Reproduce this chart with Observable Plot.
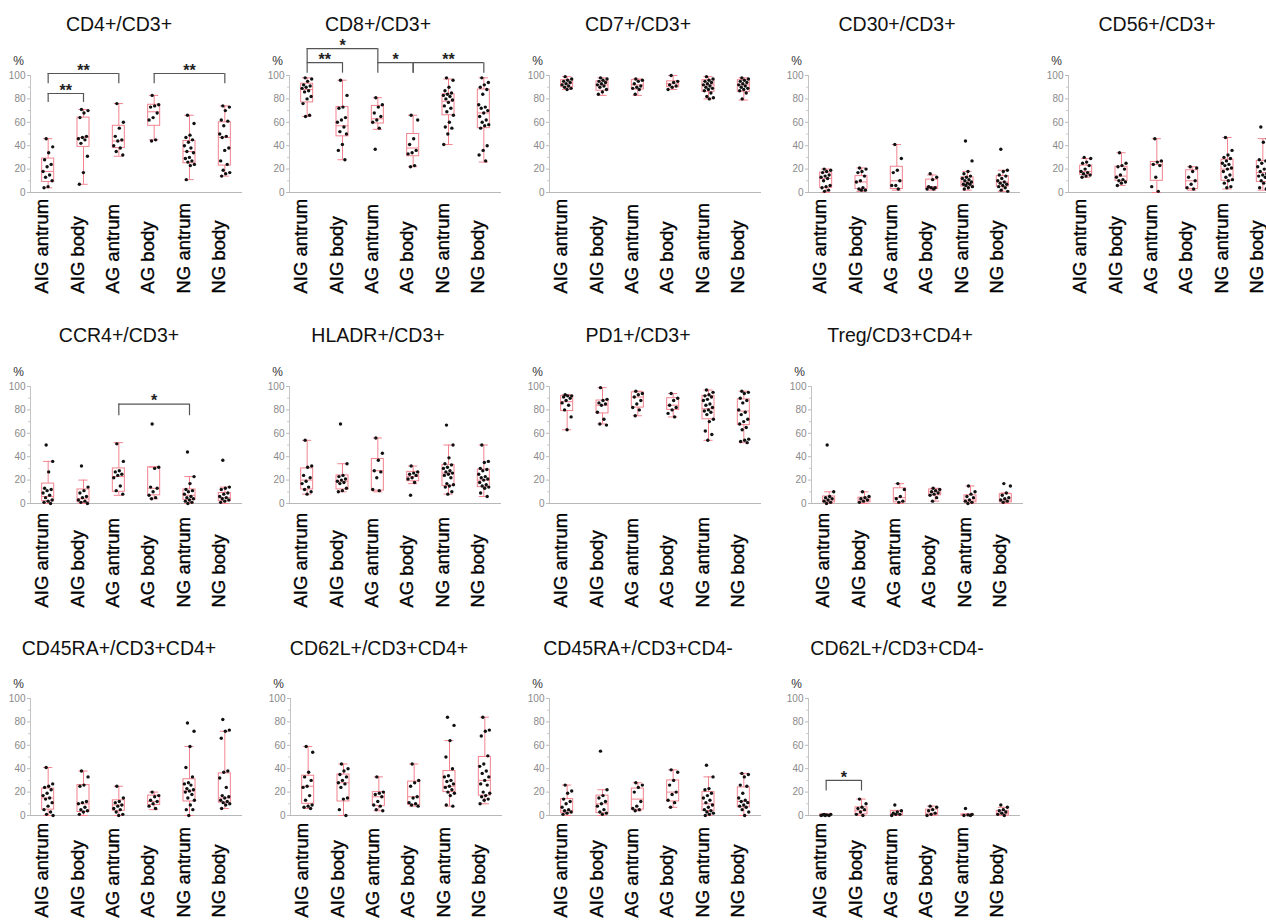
<!DOCTYPE html>
<html><head><meta charset="utf-8">
<script src="https://cdn.jsdelivr.net/npm/d3@7"></script>
<script src="https://cdn.jsdelivr.net/npm/@observablehq/plot@0.6"></script>
<style>
html,body{margin:0;padding:0;background:#fff;overflow:hidden;}
#root{position:relative;width:1266px;height:920px;overflow:hidden;font-family:"Liberation Sans",Arial,sans-serif;}
.title{position:absolute;width:238px;text-align:center;font-size:19.5px;line-height:19.5px;color:#111;white-space:nowrap;}
.panel{position:absolute;width:260px;}
.panel svg{max-width:none !important;}
</style></head><body><div id="root"></div>
<script>
const groups = ["AIG antrum","AIG body","AG antrum","AG body","NG antrum","NG body"];
const yTicks = [0,20,40,60,80,100];
const yMinor = [10,30,50,70,90];

// box stats per group: [whisker low, q1, median, q3, whisker high]
const cd4Box = [[4,9,18,29,46],[7,39,47,64,71],[31,38,44,57,76],[45,57,69,75,83],[11,25,35,44,66],[14,23,47,60,74]];
const cd4Pts = [
 [46,39,34,28,24,22,18,15,13,10,5,4],
 [71,70,68,64,48,47,46,45,42,31,17,7],
 [76,60,55,48,45,44,40,38,35,32],
 [83,75,74,73,68,64,62,45,44],
 [66,59,49,47,45,43,40,38,35,34,30,29,27,26,24,23,11],
 [74,73,70,62,61,57,50,48,47,38,36,27,24,19,17,16,14]];
const cd4Sig = [
 {a:"AIG antrum",b:"AIG body",y1:77,y2:84.6,label:"**"},
 {a:"AIG antrum",b:"AG antrum",y1:93,y2:101.7,label:"**"},
 {a:"AG body",b:"NG body",y1:93,y2:101.7,label:"**"}];

const cd8Box = [[65,77,88,93,98],[28,48,57,73,96],[54,59,63,74,81],[22,31,38,50,66],[41,66,78,84,97],[26,55,68,88,98]];
const cd8Pts = [
 [98,97,95,92,91,90,89,87,86,82,80,76,66,65],
 [96,83,73,72,64,62,60,56,52,50,41,36,28],
 [81,75,73,68,65,62,60,55,37],
 [66,62,46,41,36,34,33,23,22],
 [98,96,90,87,85,84,83,82,80,79,77,74,72,69,66,60,56,55,50,41],
 [98,94,92,90,88,84,75,73,72,70,68,65,62,60,58,57,55,40,36,32,27]];
const cd8Sig = [
 {a:"AIG antrum",b:"AG antrum",y1:111,y2:123,label:"*"},
 {a:"AIG antrum",b:"AIG body",y1:102,y2:111,label:"**"},
 {a:"AG antrum",b:"AG body",y1:102,y2:111,label:"*"},
 {a:"AG body",b:"NG body",y1:102,y2:111,label:"**"}];

const cd7Box = [[88,90,93,96,99],[83,87,92,95,98],[83,88,92,96,97],[88,90,93,95,100],[80,86,92,96,99],[79,86,92,96,98]];
const cd7Pts = [
 [99,97,96,95,94,93,92,91,90,89,88],
 [98,97,96,95,94,93,92,91,90,88,86,84],
 [97,96,95,93,91,90,89,88,84],
 [100,95,94,92,91,90,88],
 [99,97,96,95,94,93,92,91,90,89,88,87,85,82,81,80],
 [98,97,96,95,94,93,92,91,90,89,88,87,85,80]];

const cd30Box = [[0,4,12,17,20],[1,3,9,14,21],[2,3,10,22,41],[2,3,5,11,15],[2,5,9,13,18],[1,5,9,14,19]];
const cd30Pts = [
 [20,19,18,17,15,14,13,12,10,6,5,4,2,1],
 [21,20,18,17,14,10,9,4,3,2,2],
 [41,29,19,17,10,6,6,3],
 [16,13,11,5,4,4,3,3],
 [44,27,18,16,14,13,12,11,10,9,8,7,7,6,5,4,3],
 [37,19,18,15,14,12,10,9,8,7,6,5,4,2,1]];

const cd56Box = [[13,15,18,23,29],[6,10,14,22,34],[0,10,24,26,46],[2,3,10,19,22],[3,10,20,28,47],[2,9,17,27,46]];
const cd56Pts = [
 [30,29,26,25,23,20,18,17,16,15,14,13],
 [34,25,23,22,20,15,13,11,10,9,8,6],
 [46,27,26,24,23,13,5,1],
 [22,21,18,13,10,7,4,3],
 [47,36,32,30,29,27,25,24,23,21,20,18,15,13,11,10,8,5,4],
 [56,46,43,28,27,25,22,20,18,16,15,14,13,10,9,8,4,3]];

const ccr4Box = [[0,2,6,17,36],[0,1,4,12,20],[7,10,23,30,52],[4,7,13,31,31],[0,3,7,12,23],[0,2,5,9,14]];
const ccr4Pts = [
 [50,36,27,13,12,11,9,7,5,3,2,1,0],
 [32,14,11,9,6,5,3,2,1,0],
 [51,36,28,27,25,24,22,15,11,8],
 [68,31,30,14,13,10,7,5,4],
 [44,23,17,12,11,10,8,6,5,4,3,2,1,0],
 [37,14,13,12,9,8,6,5,4,3,2,1]];
const ccr4Sig = [{a:"AG antrum",b:"NG antrum",y1:75,y2:85,label:"*"}];

const hladrBox = [[8,12,20,30,54],[10,12,19,24,34],[10,11,28,38,56],[17,19,23,27,32],[8,15,26,33,50],[6,14,20,29,50]];
const hladrPts = [
 [54,32,31,24,22,19,17,14,12,10,8],
 [68,34,24,23,21,20,19,18,17,13,11,10],
 [56,43,37,28,27,22,12,11],
 [32,27,26,25,24,22,21,18,7],
 [67,50,39,34,33,31,30,28,27,26,25,24,22,17,16,15,14,10,8],
 [50,36,35,30,29,28,25,23,22,21,20,18,16,15,14,13,9,6]];

const pd1Box = [[63,79,87,92,93],[68,77,84,88,99],[75,82,91,95,96],[74,80,84,90,94],[54,72,81,92,97],[52,67,79,89,96]];
const pd1Pts = [
 [93,92,92,91,90,88,86,84,80,74,63],
 [99,89,88,86,85,84,78,72,68,67],
 [96,94,93,91,88,85,82,80,75],
 [94,90,88,84,82,80,77,74],
 [97,95,93,92,91,89,88,85,84,82,80,79,78,76,72,70,62,59,54],
 [96,95,94,90,88,86,80,78,76,72,70,68,65,63,55,54,53,52]];

const tregBox = [[0,1,3,6,10],[0,1,3,5,10],[0,1,5,13,17],[2,7,10,12,13],[0,1,3,7,15],[0,1,3,8,9]];
const tregPts = [
 [50,10,6,5,4,3,2,1,0],
 [10,6,5,4,3,2,1],
 [17,12,6,4,2,1],
 [13,12,11,10,9,8,7,5,2],
 [15,10,8,6,5,3,2,1,0],
 [17,15,9,7,5,4,3,2,1]];

const ra4pBox = [[0,5,15,23,41],[0,3,10,26,38],[0,4,9,13,25],[5,9,12,17,20],[0,12,21,31,59],[6,11,15,36,72]];
const ra4pPts = [
 [41,27,25,24,22,19,17,15,14,11,8,5,3,1,0],
 [38,33,26,25,12,11,10,7,5,4,3,1],
 [25,15,12,11,9,8,6,5,3,1,0],
 [20,17,16,13,12,10,8,6],
 [79,72,59,41,33,28,27,26,23,22,21,20,18,15,13,9,5,5,0],
 [82,73,72,66,38,37,32,24,17,16,15,13,12,11,10,9,6]];

const l4pBox = [[6,10,25,34,59],[0,12,28,35,44],[4,8,16,20,33],[8,9,16,29,44],[8,20,25,38,64],[10,17,30,50,84]];
const l4pPts = [
 [59,54,37,33,30,25,24,17,13,9,8,7,6],
 [44,40,38,35,33,30,28,27,24,15,14,5,0],
 [33,20,19,18,16,12,9,8,5,4],
 [44,30,28,25,16,15,11,10,9,8],
 [84,77,64,50,40,34,33,30,29,27,25,24,22,20,19,17,9,8],
 [84,73,72,68,51,44,42,38,36,33,30,27,26,20,19,17,16,14,13,10]];

const ra4mBox = [[0,2,4,14,26],[0,2,10,17,22],[4,5,14,23,28],[7,12,20,30,39],[0,4,10,20,33],[0,7,12,24,36]];
const ra4mPts = [
 [26,21,19,14,12,10,7,5,4,3,2,1],
 [55,22,17,15,12,10,8,5,3,2,1],
 [28,26,24,20,12,8,6,5,4],
 [39,37,30,26,20,18,13,11,7],
 [43,33,23,22,19,17,15,13,11,9,7,5,4,3,2,1,0],
 [36,35,33,26,25,19,15,13,12,11,9,8,7,5,3,0]];

const l4mBox = [[0,0,0.5,1,1],[0,1,4,7,14],[0,0,1,4,4],[0,0,2,5,8],[0,0,0.3,1,1],[0,0,2,4,7]];
const l4mPts = [
 [1,1,0.5,0.5,0,0,0],
 [14,10,7,6,5,3,1,0],
 [9,4,3,2,1,1,0],
 [8,7,5,4,2,1,0],
 [6,1,0.5,0,0],
 [9,7,5,4,3,2,1,0]];
const l4mSig = [{a:"AIG antrum",b:"AIG body",y1:21,y2:30,label:"*"}];

const panels = [
 {title:"CD4+/CD3+", box:cd4Box, pts:cd4Pts, sig:cd4Sig, row:0, col:0},
 {title:"CD8+/CD3+", box:cd8Box, pts:cd8Pts, sig:cd8Sig, row:0, col:1},
 {title:"CD7+/CD3+", box:cd7Box, pts:cd7Pts, sig:[], row:0, col:2},
 {title:"CD30+/CD3+", box:cd30Box, pts:cd30Pts, sig:[], row:0, col:3},
 {title:"CD56+/CD3+", box:cd56Box, pts:cd56Pts, sig:[], row:0, col:4},
 {title:"CCR4+/CD3+", box:ccr4Box, pts:ccr4Pts, sig:ccr4Sig, row:1, col:0},
 {title:"HLADR+/CD3+", box:hladrBox, pts:hladrPts, sig:[], row:1, col:1},
 {title:"PD1+/CD3+", box:pd1Box, pts:pd1Pts, sig:[], row:1, col:2},
 {title:"Treg/CD3+CD4+", box:tregBox, pts:tregPts, sig:[], row:1, col:3},
 {title:"CD45RA+/CD3+CD4+", box:ra4pBox, pts:ra4pPts, sig:[], row:2, col:0},
 {title:"CD62L+/CD3+CD4+", box:l4pBox, pts:l4pPts, sig:[], row:2, col:1},
 {title:"CD45RA+/CD3+CD4-", box:ra4mBox, pts:ra4mPts, sig:[], row:2, col:2},
 {title:"CD62L+/CD3+CD4-", box:l4mBox, pts:l4mPts, sig:l4mSig, row:2, col:3}
];

const frameTops = [75, 385.5, 698];
const titleTops = [14.5, 326, 639];
const labelDy = [101, 104, 102];
const colLefts = [[0,259,519,778,1038],[0,259,519,781],[0,260,519,778]];

const PINK = "#f2838f";
const root = document.getElementById("root");

function jitter(k){ const f = ((k*0.618034 + 0.31) % 1); return (f - 0.5) * 0.3; }

for (const p of panels) {
  const left = colLefts[p.row][p.col];
  const boxes = p.box.map((b,i)=>({i, lo:b[0], q1:b[1], med:b[2], q3:b[3], hi:b[4]}));
  const dots = p.pts.flatMap((arr,i)=>arr.map((v,k)=>({i, j:jitter(k), v})));
  const sig = p.sig.map(s=>({...s, ia:groups.indexOf(s.a), ib:groups.indexOf(s.b)}));
  const svg = Plot.plot({
    width:260, height:270, marginTop:45, marginBottom:108, marginLeft:30, marginRight:18,
    style:{fontFamily:"'Liberation Sans', Arial, sans-serif", background:"transparent", overflow:"visible", maxWidth:"none"},
    x:{domain:[-0.5,5.5], axis:null},
    y:{domain:[0,100]},
    marks:[
      Plot.ruleX([-0.5], {stroke:"#c4c4c4"}),
      Plot.ruleY([0], {stroke:"#b8b8b8", strokeWidth:1.2}),
      Plot.axisY(yTicks, {tickSize:3, tickPadding:2, fontSize:10, fill:"#8a8a8a", stroke:"#bbb", label:null}),
      Plot.axisY(yMinor, {tickSize:2, tickFormat:()=>"", stroke:"#ccc", label:null}),
      Plot.text(["%"], {text:d=>d, frameAnchor:"top-left", textAnchor:"middle", dx:-12, dy:-19, fontSize:12, fill:"#333"}),
      Plot.ruleX(boxes, {x:"i", y1:"lo", y2:"q1", stroke:PINK}),
      Plot.ruleX(boxes, {x:"i", y1:"q3", y2:"hi", stroke:PINK}),
      Plot.ruleY(boxes, {y:"lo", x1:d=>d.i-0.13, x2:d=>d.i+0.13, stroke:PINK}),
      Plot.ruleY(boxes, {y:"hi", x1:d=>d.i-0.13, x2:d=>d.i+0.13, stroke:PINK}),
      Plot.rect(boxes, {x1:d=>d.i-0.17, x2:d=>d.i+0.17, y1:"q1", y2:"q3", fill:"none", stroke:PINK}),
      Plot.ruleY(boxes, {y:"med", x1:d=>d.i-0.17, x2:d=>d.i+0.17, stroke:PINK}),
      Plot.dot(dots, {x:d=>d.i+d.j, y:"v", r:1.7, fill:"#111", stroke:"none"}),
      Plot.ruleY(sig, {y:"y2", x1:"ia", x2:"ib", stroke:"#555", strokeWidth:1.2}),
      Plot.ruleX(sig, {x:"ia", y1:"y1", y2:"y2", stroke:"#555", strokeWidth:1.2}),
      Plot.ruleX(sig, {x:"ib", y1:"y1", y2:"y2", stroke:"#555", strokeWidth:1.2}),
      Plot.text(sig, {x:d=>(d.ia+d.ib)/2, y:"y2", text:"label", dy:-3, fontSize:16, fontWeight:"bold", fill:"#222"}),
      Plot.text(groups, {x:(d,i)=>i, text:d=>d, frameAnchor:"bottom", rotate:-90, textAnchor:"start", dy:labelDy[p.row], fontSize:18.5, letterSpacing:"-0.8px", fill:"#000", stroke:"#000", strokeWidth:0.35})
    ]
  });
  const wrap = document.createElement("div");
  wrap.className = "panel";
  wrap.style.left = left + "px";
  wrap.style.top = (frameTops[p.row] - 45) + "px";
  wrap.appendChild(svg);
  root.appendChild(wrap);
  const t = document.createElement("div");
  t.className = "title";
  t.style.left = left + "px";
  t.style.top = titleTops[p.row] + "px";
  t.textContent = p.title;
  root.appendChild(t);
}
</script></body></html>
